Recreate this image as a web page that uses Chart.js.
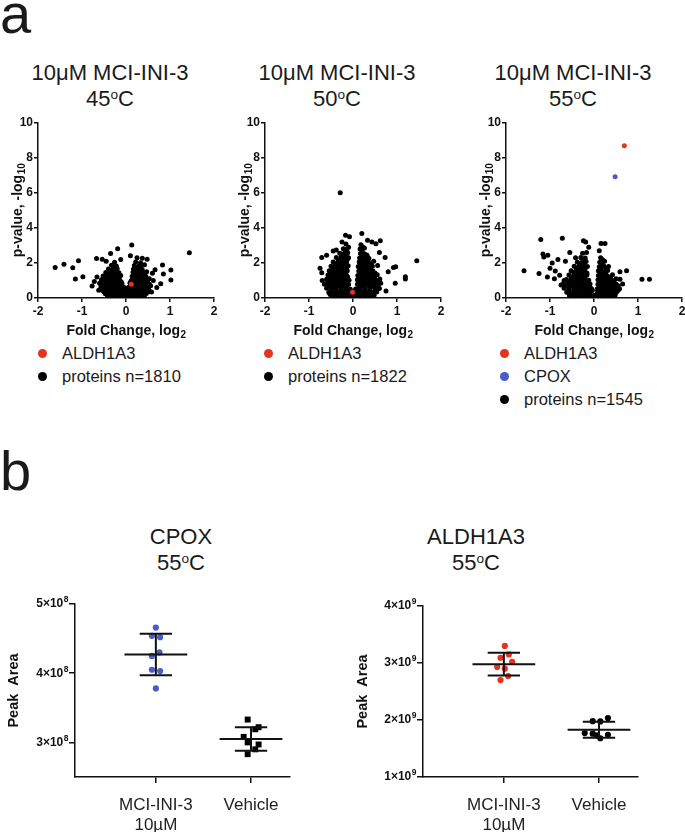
<!DOCTYPE html>
<html>
<head>
<meta charset="utf-8">
<script src="https://cdn.jsdelivr.net/npm/chart.js@4.4.0/dist/chart.umd.min.js"></script>
<style>
  body { margin:0; width:685px; height:832px; overflow:hidden; background:#fff;
         font-family:"Liberation Sans", Arial, sans-serif; color:#1a1a1a; position:relative; }
  .box { position:absolute; }
  .title { position:absolute; width:200px; text-align:center; font-size:22px; line-height:26px; }
  .title sup { font-size:0.62em; vertical-align:0.5em; line-height:0; }
  .letter { position:absolute; left:0; font-size:56px; line-height:56px; }
  .legend { position:absolute; font-size:16.5px; line-height:23px; white-space:nowrap; }
  .dot { display:inline-block; width:9px; height:9px; border-radius:50%; margin-right:15px; vertical-align:1px; }
</style>
</head>
<body>

<div class="letter" style="top:-14px">a</div>
<div class="letter" style="top:443px">b</div>

<div class="title" style="left:10px;top:60px">10&mu;M MCI-INI-3<br>45<sup>o</sup>C</div>
<div class="title" style="left:237px;top:60px">10&mu;M MCI-INI-3<br>50<sup>o</sup>C</div>
<div class="title" style="left:473px;top:60px">10&mu;M MCI-INI-3<br>55<sup>o</sup>C</div>

<div class="box" style="left:0;top:113px;width:222px;height:227px"><canvas id="v45"></canvas></div>
<div class="box" style="left:227px;top:113px;width:222px;height:227px"><canvas id="v50"></canvas></div>
<div class="box" style="left:468px;top:113px;width:222px;height:227px"><canvas id="v55"></canvas></div>

<div class="legend" id="leg45" style="left:38px;top:342px"></div>
<div class="legend" id="leg50" style="left:264px;top:342px"></div>
<div class="legend" id="leg55" style="left:500px;top:342px"></div>

<div class="title" style="left:81px;top:524px">CPOX<br>55<sup>o</sup>C</div>
<div class="title" style="left:376px;top:524px">ALDH1A3<br>55<sup>o</sup>C</div>

<div class="box" style="left:0;top:590px;width:300px;height:242px"><canvas id="cpox"></canvas></div>
<div class="box" style="left:350px;top:592px;width:298px;height:240px"><canvas id="aldh"></canvas></div>

<script>
const RED = '#e5331f';
const BLUE = '#4b5cc4';
const INK = '#111';
const FONT = '"Liberation Sans", Arial, sans-serif';

// volcano data: [fold change log2, -log10 p]
const aldh45 = [[0.12, 0.78]];
const prot45 = [
  [-1.61,1.75],[-1.41,1.93],[-1.21,1.73],[-1.08,2.13],[-1.15,1.09],[-0.98,1.22],[1.44,2.59],[0.83,1.89],
  [0.85,1.37],[1.02,1.6],[1.02,1.03],[0.13,3.03],[-0.19,2.82],[-0.35,2.55],[-0.67,2.26],[-0.54,2.21],
  [0.1,2.42],[0.48,2.21],[0.37,2.27],[-0.77,0.69],[0.6,1.41],[0.62,1.0],[0.79,0.82],[-0.72,0.95],
  [-0.66,1.2],[0.7,0.6],[0.66,1.62],[-0.62,0.45],[0.58,0.35],
  [-0.33,0.06],[-0.21,0.04],[-0.12,0.08],[-0.02,0.03],[0.07,0.05],[0.18,0.09],[0.29,0.05],[-0.42,0.12],[0.4,0.11],
  [-0.47,0.24],[-0.36,0.27],[-0.26,0.22],[-0.15,0.26],[-0.05,0.21],[0.04,0.25],[0.14,0.22],[0.24,0.28],[0.35,0.23],[0.46,0.26],
  [-0.53,0.43],[-0.41,0.47],[-0.31,0.42],[-0.2,0.46],[-0.1,0.44],[0.0,0.4],[0.1,0.47],[0.2,0.43],[0.31,0.48],[0.42,0.44],[0.52,0.46],
  [-0.57,0.63],[-0.46,0.67],[-0.36,0.62],[-0.25,0.66],[-0.14,0.64],[-0.04,0.6],[0.06,0.62],[0.16,0.67],[0.27,0.63],[0.37,0.66],[0.48,0.62],[0.56,0.7],
  [-0.6,0.84],[-0.5,0.88],[-0.39,0.83],[-0.29,0.87],[-0.19,0.85],[-0.09,0.82],[0.09,0.86],[0.19,0.83],[0.29,0.88],[0.4,0.84],[0.5,0.87],
  [-0.56,1.04],[-0.45,1.08],[-0.35,1.03],[-0.25,1.07],[-0.15,1.05],[0.13,1.03],[0.23,1.08],[0.33,1.04],[0.44,1.06],[0.53,1.1],
  [-0.52,1.26],[-0.41,1.23],[-0.31,1.27],[-0.21,1.24],[-0.12,1.28],[0.14,1.25],[0.24,1.22],[0.34,1.27],[0.45,1.24],
  [-0.46,1.46],[-0.36,1.43],[-0.26,1.47],[-0.16,1.44],[0.16,1.47],[0.26,1.43],[0.36,1.48],[0.47,1.5],
  [-0.4,1.66],[-0.3,1.63],[-0.2,1.67],[0.17,1.64],[0.27,1.68],[0.37,1.62],
  [-0.33,1.87],[-0.22,1.83],[0.19,1.86],[0.3,1.84],[0.42,1.9],
  [-0.26,2.04],[-0.45,2.1],[0.22,2.06],[0.33,2.02],[-0.12,2.2],[0.25,2.3],[0.02,0.15],[-0.03,0.32],
  [-0.38,0.16],[-0.27,0.14],[-0.16,0.17],[-0.07,0.13],[0.09,0.15],[0.2,0.17],[0.31,0.14],[0.43,0.18],
  [-0.5,0.35],[-0.41,0.33],[-0.3,0.36],[-0.2,0.34],[-0.1,0.37],[0.05,0.33],[0.15,0.36],[0.26,0.34],[0.37,0.37],[0.5,0.35],
  [-0.55,0.54],[-0.46,0.56],[-0.35,0.53],[-0.25,0.57],[-0.15,0.54],[-0.06,0.52],[0.05,0.55],[0.15,0.53],[0.26,0.56],[0.36,0.54],[0.47,0.55],
  [-0.52,0.76],[-0.41,0.74],[-0.31,0.77],[-0.21,0.75],[-0.11,0.73],[0.11,0.76],[0.21,0.74],[0.32,0.77],[0.43,0.75],[0.53,0.78],
  [-0.5,0.96],[-0.4,0.94],[-0.3,0.97],[-0.2,0.95],[-0.11,0.93],[0.11,0.95],[0.2,0.97],[0.29,0.94],[0.39,0.96],[0.49,0.98],
  [-0.47,1.16],[-0.36,1.14],[-0.26,1.17],[-0.16,1.15],[0.17,1.16],[0.28,1.14],[0.39,1.17],
  [-0.41,1.36],[-0.31,1.34],[-0.21,1.37],[0.2,1.35],[0.3,1.36],[0.41,1.38],
  [-0.34,1.56],[-0.25,1.54],[0.21,1.55],[0.31,1.57],
  [-0.27,1.76],[0.23,1.75],[0.34,1.74],[-0.01,0.1],[0.02,0.24],[-0.02,0.47]
];

const aldh50 = [[-0.01, 0.33]];
const prot50 = [
  [-0.29,6.02],[0.2,3.69],[-0.17,3.58],[-0.08,3.5],[0.62,3.27],[0.43,3.2],[0.52,3.1],[1.45,2.13],
  [-0.71,2.32],[-0.6,2.45],[-0.45,2.68],[-0.38,2.75],[0.73,2.32],[0.92,1.75],[0.97,1.78],[1.19,1.22],
  [1.19,1.08],[0.96,0.84],[-0.71,1.45],[-0.7,1.0],[-0.65,0.78],[-0.52,0.2],[0.75,0.4],[0.6,2.6],
  [0.33,3.3],[-0.75,1.7],[0.8,1.5],
  [-0.36,0.08],[-0.25,0.12],[-0.14,0.05],[-0.04,0.1],[0.06,0.06],[0.16,0.11],[0.27,0.07],[0.38,0.12],[-0.46,0.15],[0.48,0.16],
  [-0.55,0.32],[-0.44,0.28],[-0.33,0.33],[-0.22,0.27],[-0.11,0.31],[0.1,0.29],[0.21,0.33],[0.32,0.27],[0.43,0.31],[0.54,0.34],
  [-0.6,0.56],[-0.49,0.52],[-0.38,0.57],[-0.27,0.53],[-0.16,0.55],[-0.06,0.5],[0.06,0.52],[0.16,0.56],[0.27,0.51],[0.38,0.55],[0.49,0.58],[0.6,0.54],
  [-0.62,0.82],[-0.52,0.78],[-0.41,0.83],[-0.3,0.79],[-0.2,0.81],[-0.1,0.77],[0.1,0.79],[0.2,0.83],[0.31,0.78],[0.42,0.82],[0.52,0.8],[0.63,0.84],
  [-0.6,1.07],[-0.5,1.03],[-0.39,1.08],[-0.28,1.04],[-0.18,1.06],[-0.09,1.02],[0.1,1.05],[0.2,1.08],[0.3,1.03],[0.41,1.07],[0.51,1.04],[0.61,1.09],
  [-0.57,1.31],[-0.47,1.28],[-0.36,1.33],[-0.26,1.29],[-0.15,1.32],[0.11,1.28],[0.22,1.32],[0.32,1.27],[0.43,1.31],[0.55,1.33],
  [-0.54,1.56],[-0.44,1.52],[-0.33,1.57],[-0.23,1.53],[-0.13,1.56],[0.13,1.54],[0.23,1.58],[0.34,1.52],[0.45,1.56],
  [-0.5,1.82],[-0.4,1.78],[-0.3,1.83],[-0.2,1.79],[-0.11,1.84],[0.12,1.8],[0.22,1.83],[0.33,1.78],[0.44,1.82],[0.56,1.86],
  [-0.45,2.06],[-0.35,2.03],[-0.25,2.08],[-0.15,2.04],[0.14,2.06],[0.24,2.02],[0.35,2.07],[0.47,2.1],
  [-0.38,2.32],[-0.28,2.28],[-0.18,2.33],[-0.1,2.3],[0.15,2.29],[0.25,2.33],[0.36,2.27],
  [-0.3,2.56],[-0.2,2.53],[-0.12,2.58],[0.17,2.55],[0.27,2.52],
  [-0.22,2.82],[-0.14,2.78],[0.16,2.8],[0.26,2.86],
  [-0.16,3.08],[0.18,3.04],[-0.25,3.2],
  [-0.41,0.18],[-0.3,0.2],[-0.19,0.17],[-0.09,0.21],[0.01,0.16],[0.11,0.19],[0.22,0.21],[0.33,0.18],[0.44,0.22],
  [-0.5,0.42],[-0.39,0.44],[-0.28,0.41],[-0.17,0.45],[-0.06,0.38],[0.05,0.4],[0.16,0.43],[0.27,0.41],[0.38,0.44],[0.5,0.42],
  [-0.56,0.68],[-0.45,0.66],[-0.35,0.69],[-0.24,0.67],[-0.14,0.7],[0.14,0.68],[0.25,0.66],[0.36,0.69],[0.47,0.67],[0.57,0.7],
  [-0.55,0.93],[-0.45,0.91],[-0.34,0.94],[-0.23,0.92],[-0.14,0.95],[0.15,0.92],[0.25,0.94],[0.36,0.91],[0.46,0.95],[0.56,0.93],
  [-0.52,1.18],[-0.42,1.16],[-0.31,1.19],[-0.21,1.17],[-0.12,1.2],[0.16,1.17],[0.27,1.19],[0.38,1.16],[0.49,1.2],
  [-0.49,1.43],[-0.38,1.41],[-0.28,1.44],[-0.18,1.42],[0.18,1.43],[0.28,1.41],[0.39,1.45],[0.5,1.43],
  [-0.45,1.68],[-0.35,1.66],[-0.25,1.69],[-0.15,1.67],[0.17,1.68],[0.28,1.66],[0.39,1.7],
  [-0.4,1.93],[-0.3,1.91],[-0.2,1.94],[0.19,1.92],[0.3,1.95],[0.41,1.93],
  [-0.33,2.18],[-0.23,2.16],[-0.13,2.2],[0.2,2.18],[0.3,2.2],
  [-0.25,2.43],[-0.16,2.42],[0.21,2.42],[0.32,2.45],
  [-0.18,2.68],[0.21,2.67],[-0.1,2.9],[0.22,2.92]
];

const aldh55 = [[0.69, 8.7]];
const cpox55 = [[0.48, 6.93]];
const prot55 = [
  [-1.21,3.35],[-0.72,3.41],[-1.59,1.56],[-1.25,1.4],[-1.16,2.51],[-1.14,2.35],[-1.05,2.45],[-0.82,2.2],
  [-0.95,2.0],[-1.0,1.7],[-0.88,1.55],[-1.06,1.2],[-0.9,1.1],[-0.78,1.3],[-0.65,2.1],[-0.55,2.6],
  [-0.42,2.3],[1.09,1.07],[1.26,1.07],[0.16,3.12],[0.25,3.12],[-0.24,3.27],[-0.19,3.2],[-0.12,2.9],
  [0.74,1.56],[0.59,1.5],[0.59,1.07],[0.65,0.8],[-0.75,0.75],[-0.68,1.0],[0.12,2.7],
  [-0.45,0.1],[-0.35,0.06],[-0.24,0.11],[-0.14,0.05],[-0.04,0.09],[0.06,0.05],[0.16,0.1],[0.27,0.07],[0.38,0.12],[-0.56,0.15],[0.48,0.16],
  [-0.62,0.33],[-0.51,0.28],[-0.4,0.32],[-0.3,0.27],[-0.19,0.31],[-0.09,0.28],[0.08,0.3],[0.18,0.27],[0.29,0.32],[0.4,0.28],[0.51,0.33],
  [-0.68,0.56],[-0.57,0.52],[-0.46,0.57],[-0.36,0.53],[-0.25,0.55],[-0.15,0.51],[-0.06,0.54],[0.07,0.52],[0.17,0.56],[0.28,0.51],[0.38,0.55],[0.49,0.58],[0.58,0.53],
  [-0.7,0.82],[-0.6,0.78],[-0.49,0.83],[-0.39,0.79],[-0.29,0.81],[-0.19,0.77],[-0.09,0.8],[0.09,0.79],[0.19,0.83],[0.3,0.78],[0.4,0.82],[0.5,0.8],
  [-0.63,1.06],[-0.53,1.02],[-0.42,1.07],[-0.32,1.03],[-0.22,1.06],[-0.12,1.02],[0.09,1.05],[0.19,1.08],[0.29,1.03],[0.39,1.07],[0.5,1.1],
  [-0.57,1.32],[-0.46,1.28],[-0.36,1.33],[-0.26,1.29],[-0.16,1.31],[0.1,1.28],[0.2,1.32],[0.3,1.27],[0.42,1.33],
  [-0.52,1.56],[-0.41,1.53],[-0.31,1.57],[-0.21,1.53],[0.1,1.56],[0.2,1.52],[0.31,1.57],
  [-0.45,1.82],[-0.35,1.78],[-0.25,1.83],[-0.15,1.8],[0.12,1.79],[0.22,1.84],[0.33,1.8],
  [-0.38,2.06],[-0.28,2.03],[-0.18,2.08],[0.13,2.04],[0.24,2.1],
  [-0.3,2.32],[-0.2,2.28],[0.15,2.3],
  [-0.26,2.56],[-0.17,2.6],
  [-0.5,0.2],[-0.4,0.18],[-0.29,0.21],[-0.19,0.17],[-0.09,0.2],[0.01,0.16],[0.11,0.19],[0.22,0.21],[0.33,0.18],[0.44,0.22],
  [-0.57,0.43],[-0.46,0.41],[-0.35,0.44],[-0.24,0.42],[-0.14,0.4],[-0.04,0.43],[0.13,0.41],[0.23,0.44],[0.34,0.4],[0.45,0.43],[0.55,0.45],
  [-0.64,0.68],[-0.53,0.66],[-0.42,0.69],[-0.32,0.67],[-0.22,0.7],[-0.12,0.66],[0.12,0.68],[0.23,0.66],[0.34,0.69],[0.45,0.67],[0.55,0.7],
  [-0.59,0.93],[-0.48,0.91],[-0.37,0.94],[-0.27,0.92],[-0.17,0.95],[0.13,0.92],[0.24,0.94],[0.35,0.91],[0.45,0.95],
  [-0.52,1.19],[-0.41,1.17],[-0.31,1.2],[-0.21,1.18],[0.14,1.17],[0.25,1.2],[0.36,1.18],
  [-0.46,1.44],[-0.36,1.42],[-0.26,1.45],[-0.16,1.43],[0.15,1.44],[0.26,1.42],
  [-0.4,1.69],[-0.3,1.67],[-0.2,1.7],[0.16,1.68],[0.27,1.7],
  [-0.33,1.94],[-0.23,1.92],[0.18,1.93],
  [-0.25,2.18],[0.19,2.2]
];

// panel b: peak areas
const groups = [['MCI-INI-3', '10\u00b5M'], 'Vehicle'];
const cpoxDrug = [4.66e8, 4.54e8, 4.52e8, 4.30e8, 4.25e8, 4.05e8, 4.03e8, 3.78e8];
const cpoxDrugSpread = [0, -0.042, 0.045, 0.038, -0.042, -0.042, 0.045, 0];
const cpoxVeh = [3.33e8, 3.22e8, 3.19e8, 3.08e8, 3.00e8, 2.97e8, 2.90e8, 2.83e8];
const cpoxVehSpread = [-0.035, 0.08, 0.045, -0.077, -0.035, 0.08, 0.045, -0.035];
const cpoxMean = [4.27e8, 3.05e8];
const cpoxSd = [0.30e8, 0.17e8];

const aldhDrug = [3.30e9, 3.15e9, 3.09e9, 3.02e9, 2.93e9, 2.90e9, 2.77e9, 2.70e9];
const aldhDrugSpread = [0.01, 0.052, -0.035, 0.087, -0.07, 0.01, 0.045, -0.035];
const aldhVeh = [2.035e9, 1.98e9, 1.975e9, 1.77e9, 1.76e9, 1.74e9, 1.73e9, 1.68e9];
const aldhVehSpread = [0.094, -0.066, 0.014, -0.15, -0.066, 0.094, -0.02, 0.014];
const aldhMean = [2.98e9, 1.83e9];
const aldhSd = [0.20e9, 0.14e9];

function toXY(pairs) {
  return pairs.map(p => ({x: p[0], y: p[1]}));
}

function dotSet(pairs, color, r) {
  return { data: toXY(pairs), backgroundColor: color, borderWidth: 0, pointRadius: r, pointHoverRadius: r };
}

function axisFont(size, weight) {
  return { family: FONT, size: size, weight: weight };
}

// text with a lowered or raised small part, e.g. log2 or 10^8
function richText(ctx, main, small, size, smallSize, shift, align) {
  ctx.font = 'bold ' + size + 'px ' + FONT;
  const w1 = ctx.measureText(main).width;
  ctx.font = 'bold ' + smallSize + 'px ' + FONT;
  const w2 = ctx.measureText(small).width;
  const start = align === 'right' ? -(w1 + w2) : -(w1 + w2) / 2;
  ctx.textAlign = 'left';
  ctx.textBaseline = 'middle';
  ctx.font = 'bold ' + size + 'px ' + FONT;
  ctx.fillText(main, start, 0);
  ctx.font = 'bold ' + smallSize + 'px ' + FONT;
  ctx.fillText(small, start + w1 + 0.5, shift);
}

const axisTitles = {
  id: 'axisTitles',
  afterDraw(chart, args, opts) {
    const ctx = chart.ctx, a = chart.chartArea;
    ctx.save();
    ctx.fillStyle = INK;
    ctx.translate((a.left + a.right) / 2, a.bottom + 33);
    richText(ctx, opts.x[0], opts.x[1], 14, 10, 4);
    ctx.restore();
    ctx.save();
    ctx.fillStyle = INK;
    ctx.translate(a.left - 20, (a.top + a.bottom) / 2);
    ctx.rotate(-Math.PI / 2);
    richText(ctx, opts.y[0], opts.y[1], 14, 10, 4);
    ctx.restore();
  }
};

const powerTicks = {
  id: 'powerTicks',
  afterDraw(chart, args, opts) {
    const ctx = chart.ctx, sc = chart.scales.y;
    opts.values.forEach(v => {
      ctx.save();
      ctx.fillStyle = INK;
      ctx.translate(chart.chartArea.left - 7, sc.getPixelForValue(v));
      richText(ctx, Math.round(v / opts.unit) + '\u00d710', opts.exp, 12, 8.5, -4, 'right');
      ctx.restore();
    });
  }
};

function volcano(id, sets) {
  new Chart(document.getElementById(id), {
    type: 'scatter',
    data: { datasets: sets },
    plugins: [axisTitles],
    options: {
      responsive: true, maintainAspectRatio: false, animation: false,
      layout: { padding: { top: 10, right: 8, left: 0, bottom: 0 } },
      plugins: { legend: { display: false }, tooltip: { enabled: false },
                 axisTitles: { x: ['Fold Change, log', '2'], y: ['p-value, -log', '10'] } },
      scales: {
        x: {
          min: -2, max: 2,
          ticks: { stepSize: 1, color: INK, font: axisFont(12, 'bold'), padding: 2, maxRotation: 0 },
          grid: { drawOnChartArea: false, color: INK, tickLength: 4, lineWidth: 1.5 },
          border: { color: INK, width: 1.5 },
          afterFit: s => { s.height = 42; }
        },
        y: {
          min: 0, max: 10,
          ticks: { stepSize: 2, color: INK, font: axisFont(12, 'bold'), padding: 1 },
          grid: { drawOnChartArea: false, color: INK, tickLength: 4, lineWidth: 1.5 },
          border: { color: INK, width: 1.5 },
          afterFit: s => { s.width = 38; }
        }
      }
    }
  });
}

volcano('v45', [dotSet(aldh45, RED, 2.5), dotSet(prot45, '#000', 2.5)]);
volcano('v50', [dotSet(aldh50, RED, 2.5), dotSet(prot50, '#000', 2.5)]);
volcano('v55', [dotSet(aldh55, RED, 2.5), dotSet(cpox55, BLUE, 2.5), dotSet(prot55, '#000', 2.5)]);

function legend(id, items) {
  document.getElementById(id).innerHTML = items.map(it =>
    '<div><span class="dot" style="background:' + it[1] + '"></span>' + it[0] + '</div>').join('');
}
legend('leg45', [['ALDH1A3', RED], ['proteins n=1810', '#000']]);
legend('leg50', [['ALDH1A3', RED], ['proteins n=1822', '#000']]);
legend('leg55', [['ALDH1A3', RED], ['CPOX', BLUE], ['proteins n=1545', '#000']]);

// mean line, SD caps and whisker for each group, gaps split with nulls
function errorBars(means, sds) {
  const pts = [];
  means.forEach((m, i) => {
    const c = i + 1, s = sds[i];
    pts.push({x: c - 0.33, y: m}, {x: c + 0.33, y: m}, {x: c, y: null});
    pts.push({x: c - 0.17, y: m + s}, {x: c + 0.17, y: m + s}, {x: c, y: null});
    pts.push({x: c - 0.17, y: m - s}, {x: c + 0.17, y: m - s}, {x: c, y: null});
    pts.push({x: c, y: m - s}, {x: c, y: m + s}, {x: c, y: null});
  });
  return pts;
}

function column(vals, spread, c) {
  return vals.map((v, i) => ({x: c + spread[i], y: v}));
}

function dotPlot(id, cfg) {
  new Chart(document.getElementById(id), {
    type: 'scatter',
    data: {
      datasets: [
        { data: errorBars(cfg.mean, cfg.sd), showLine: true, spanGaps: false, borderColor: INK, borderWidth: 2, pointRadius: 0 },
        { data: column(cfg.drug, cfg.drugSpread, 1), backgroundColor: cfg.color, borderWidth: 0, pointRadius: 3.1 },
        { data: column(cfg.veh, cfg.vehSpread, 2), backgroundColor: '#000', borderWidth: 0,
          pointRadius: cfg.vehStyle === 'rect' ? 4.2 : 3.1, pointStyle: cfg.vehStyle }
      ]
    },
    plugins: [powerTicks],
    options: {
      responsive: true, maintainAspectRatio: false, animation: false,
      layout: { padding: { top: 14, right: 10, left: 0, bottom: 0 } },
      plugins: { legend: { display: false }, tooltip: { enabled: false },
                 powerTicks: { values: cfg.ticks, unit: cfg.unit, exp: cfg.exp } },
      scales: {
        x: {
          min: 0.15, max: 2.41,
          afterBuildTicks: s => { s.ticks = [{value: 1}, {value: 2}]; },
          ticks: { color: '#222', font: axisFont(17, 'normal'), padding: 12, maxRotation: 0, autoSkip: false,
                   callback: (v) => groups[Math.round(v) - 1] },
          grid: { drawOnChartArea: false, color: INK, tickLength: 6, lineWidth: 1.5 },
          border: { color: INK, width: 1.5 },
          afterFit: s => { s.height = 55; }
        },
        y: {
          min: cfg.min, max: cfg.max,
          afterBuildTicks: s => { s.ticks = cfg.ticks.map(v => ({value: v})); },
          ticks: { display: false },
          grid: { drawOnChartArea: false, color: INK, tickLength: 6, lineWidth: 1.5 },
          border: { color: INK, width: 1.5 },
          title: { display: true, text: 'Peak  Area', color: INK, font: axisFont(14.5, 'bold'), padding: { top: cfg.titlePad, bottom: 0 } },
          afterFit: s => { s.width = cfg.axisW; }
        }
      }
    }
  });
}

dotPlot('cpox', {
  mean: cpoxMean, sd: cpoxSd, drug: cpoxDrug, drugSpread: cpoxDrugSpread, veh: cpoxVeh, vehSpread: cpoxVehSpread,
  color: BLUE, vehStyle: 'rect', min: 2.5e8, max: 5e8, ticks: [3e8, 4e8, 5e8], unit: 1e8, exp: '8',
  axisW: 75, titlePad: 5
});
dotPlot('aldh', {
  mean: aldhMean, sd: aldhSd, drug: aldhDrug, drugSpread: aldhDrugSpread, veh: aldhVeh, vehSpread: aldhVehSpread,
  color: RED, vehStyle: 'circle', min: 1e9, max: 4e9, ticks: [1e9, 2e9, 3e9, 4e9], unit: 1e9, exp: '9',
  axisW: 73, titlePad: 4
});
</script>
</body>
</html>
